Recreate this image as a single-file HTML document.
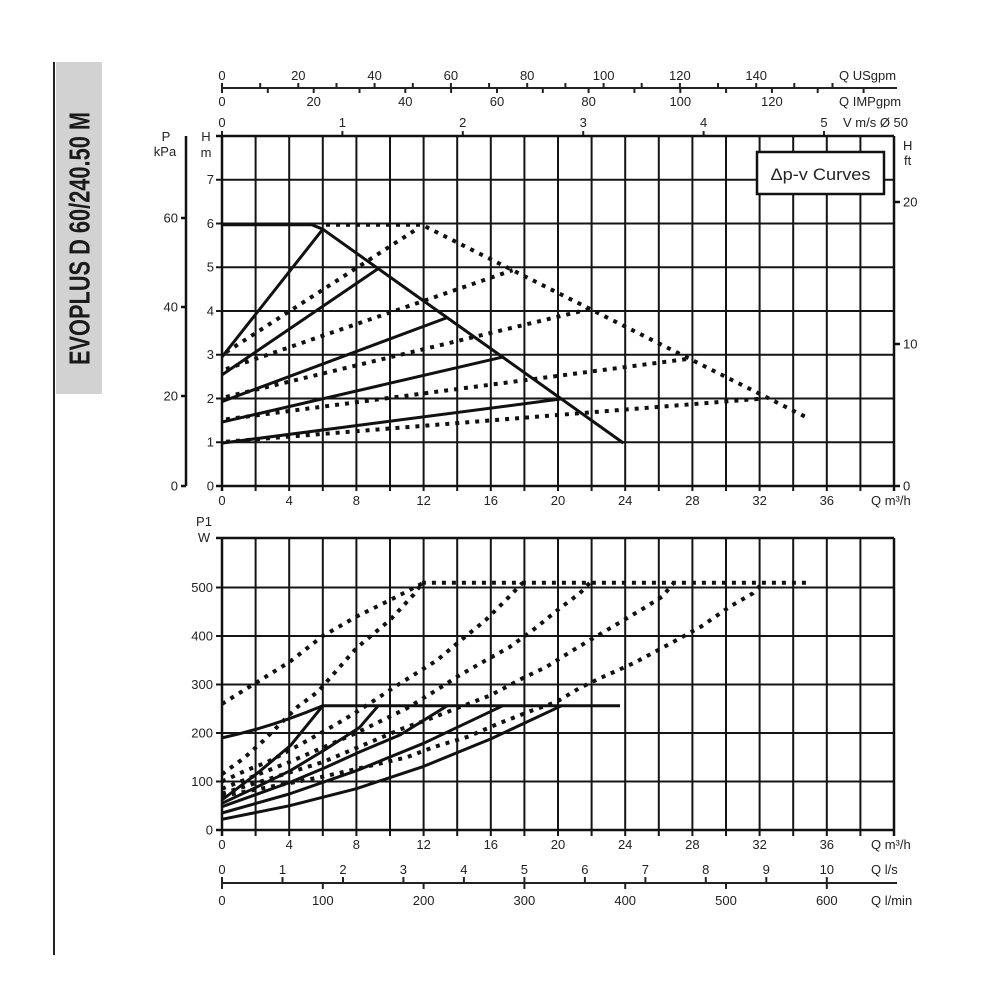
<!DOCTYPE html>
<html><head><meta charset="utf-8"><style>
html,body{margin:0;padding:0;background:#fff;}
svg{display:block;}
text{font-family:"Liberation Sans",Arial,sans-serif;fill:#222;}
</style></head><body>
<svg width="1000" height="1000" viewBox="0 0 1000 1000" xmlns="http://www.w3.org/2000/svg">
<rect width="1000" height="1000" fill="#fff"/>
<!-- left title band -->
<line x1="54" y1="62" x2="54" y2="955" stroke="#222" stroke-width="2"/>
<rect x="56" y="62" width="46" height="332" fill="#d2d2d2"/>
<text transform="translate(89.5,238.5) rotate(-90)" text-anchor="middle" font-size="29" font-weight="bold" textLength="253" lengthAdjust="spacingAndGlyphs" style="fill:#1a1a1a">EVOPLUS D 60/240.50 M</text>

<!-- top scales -->
<g stroke="#222" stroke-width="2" fill="none">
<line x1="222" y1="88" x2="897" y2="88"/>
<path d="M222,83V88M260.2,83V88M298.3,83V88M336.5,83V88M374.6,83V88M412.8,83V88M450.9,83V88M489.1,83V88M527.2,83V88M565.4,83V88M603.6,83V88M641.7,83V88M679.9,83V88M718,83V88M756.2,83V88M794.3,83V88M832.5,83V88"/>
<path d="M222,88V93M267.8,88V93M313.7,88V93M359.5,88V93M405.3,88V93M451.1,88V93M497,88V93M542.8,88V93M588.6,88V93M634.4,88V93M680.3,88V93M726.1,88V93M771.9,88V93M817.7,88V93M863.6,88V93"/>
<path d="M222,131V136M342.4,131V136M462.8,131V136M583.2,131V136M703.6,131V136M824,131V136"/>
</g>
<g font-size="13" text-anchor="middle">
<text x="222" y="80">0</text><text x="298.3" y="80">20</text><text x="374.6" y="80">40</text><text x="450.9" y="80">60</text><text x="527.2" y="80">80</text><text x="603.6" y="80">100</text><text x="679.9" y="80">120</text><text x="756.2" y="80">140</text>
<text x="222" y="106">0</text><text x="313.7" y="106">20</text><text x="405.3" y="106">40</text><text x="497" y="106">60</text><text x="588.6" y="106">80</text><text x="680.3" y="106">100</text><text x="771.9" y="106">120</text>
<text x="222" y="127">0</text><text x="342.4" y="127">1</text><text x="462.8" y="127">2</text><text x="583.2" y="127">3</text><text x="703.6" y="127">4</text><text x="824" y="127">5</text>
</g>
<g font-size="13">
<text x="839" y="80">Q USgpm</text>
<text x="839" y="106">Q IMPgpm</text>
<text x="843" y="127">V m/s Ø 50</text>
</g>

<!-- TOP CHART grid -->
<g stroke="#151515" stroke-width="2" fill="none">
<path d="M255.6,136V491M289.2,136V491M322.8,136V491M356.4,136V491M390,136V491M423.6,136V491M457.2,136V491M490.8,136V491M524.4,136V491M558,136V491M591.6,136V491M625.2,136V491M658.8,136V491M692.4,136V491M726,136V491M759.6,136V491M793.2,136V491M826.8,136V491M860.4,136V491"/>
<path d="M216,442.25H894M216,398.5H894M216,354.75H894M216,311H894M216,267.25H894M216,223.5H894M216,179.75H894"/>
</g>
<g stroke="#111" stroke-width="2.5" fill="none">
<path d="M216,136H894M216,486H894M222,136V491M894,136V491"/>
<path d="M894,202H900M894,344H900M894,486H900"/>
<path d="M186,136V486M181,218H186M181,307H186M181,396H186M181,486H186"/>
</g>
<!-- legend -->
<rect x="757" y="152" width="127" height="42" fill="#fff" stroke="#111" stroke-width="2.5"/>
<text x="820.5" y="180" font-size="17" text-anchor="middle" textLength="100" lengthAdjust="spacingAndGlyphs">Δp-v Curves</text>

<!-- top chart labels -->
<g font-size="13" text-anchor="end">
<text x="214" y="490.5">0</text><text x="214" y="446.7">1</text><text x="214" y="403">2</text><text x="214" y="359.2">3</text><text x="214" y="315.5">4</text><text x="214" y="271.7">5</text><text x="214" y="228">6</text><text x="214" y="184.2">7</text>
<text x="178" y="222.5">60</text><text x="178" y="311.5">40</text><text x="178" y="400.5">20</text><text x="178" y="490.5">0</text>
</g>
<g font-size="13" text-anchor="middle">
<text x="206" y="141">H</text><text x="206" y="157">m</text>
<text x="166" y="141">P</text><text x="165" y="156">kPa</text>
</g>
<g font-size="13">
<text x="903" y="150">H</text><text x="904" y="165">ft</text>
<text x="903" y="206.5">20</text><text x="903" y="348.5">10</text><text x="903" y="490.5">0</text>
</g>
<g font-size="13" text-anchor="middle">
<text x="222" y="505">0</text><text x="289.2" y="505">4</text><text x="356.4" y="505">8</text><text x="423.6" y="505">12</text><text x="490.8" y="505">16</text><text x="558" y="505">20</text><text x="625.2" y="505">24</text><text x="692.4" y="505">28</text><text x="759.6" y="505">32</text><text x="826.8" y="505">36</text>
</g>
<text x="871" y="505" font-size="13">Q m³/h</text>

<!-- top chart curves -->
<g stroke="#111" stroke-width="3" fill="none" stroke-linejoin="round">
<path d="M222,224.8L312,224.8L322.8,229.2L623.5,443.1"/>
<path d="M222,356.9L322.8,229.2"/>
<path d="M222,374.9L378.2,268.6"/>
<path d="M222,401.6L447.1,317.6"/>
<path d="M222,422.1L502.6,357.1"/>
<path d="M222,443.1L561.4,398.9"/>
</g>
<g stroke="#111" stroke-width="4" fill="none" stroke-dasharray="4 6">
<path d="M326,224.8L421.9,224.8L808.3,418.2"/>
<path d="M226,352.2L418.6,227.9"/>
<path d="M226,369.1L512.6,270.2"/>
<path d="M226,396.9L589.9,309"/>
<path d="M226,419.3L690.7,358.5"/>
<path d="M226,441.7L763,398.5"/>
</g>

<!-- BOTTOM CHART grid -->
<g stroke="#151515" stroke-width="2" fill="none">
<path d="M255.6,538V836M289.2,538V836M322.8,538V836M356.4,538V836M390,538V836M423.6,538V836M457.2,538V836M490.8,538V836M524.4,538V836M558,538V836M591.6,538V836M625.2,538V836M658.8,538V836M692.4,538V836M726,538V836M759.6,538V836M793.2,538V836M826.8,538V836M860.4,538V836"/>
<path d="M216,781.5H894M216,733H894M216,684.5H894M216,636H894M216,587.5H894"/>
</g>
<g stroke="#111" stroke-width="2.5" fill="none">
<path d="M216,538H894M216,830H894M222,538V836M894,538V836"/>
</g>
<g font-size="13" text-anchor="end">
<text x="213" y="834.5">0</text><text x="213" y="786">100</text><text x="213" y="737.5">200</text><text x="213" y="689">300</text><text x="213" y="640.5">400</text><text x="213" y="592">500</text>
</g>
<g font-size="13" text-anchor="middle">
<text x="204" y="526">P1</text><text x="204" y="542">W</text>
<text x="222" y="849">0</text><text x="289.2" y="849">4</text><text x="356.4" y="849">8</text><text x="423.6" y="849">12</text><text x="490.8" y="849">16</text><text x="558" y="849">20</text><text x="625.2" y="849">24</text><text x="692.4" y="849">28</text><text x="759.6" y="849">32</text><text x="826.8" y="849">36</text>
</g>
<text x="871" y="849" font-size="13">Q m³/h</text>

<!-- bottom curves -->
<g stroke="#111" stroke-width="3" fill="none" stroke-linejoin="round">
<path d="M322.8,705.8L620,705.8"/>
<path d="M222,737.9Q272,727 322.8,705.8"/>
<path d="M222,799.9L257.3,773.3L290.9,745.1L322.8,705.8"/>
<path d="M222,803.3L257.3,786.8L290.9,770.3L324.5,750L359.8,727.2L378.2,705.8"/>
<path d="M222,806.7L290.9,782L324.5,767.9L359.8,751.9L400.1,734.9L447.1,705.8"/>
<path d="M222,813L289.2,794L356.4,770.7L423.6,743.3L502.6,705.8"/>
<path d="M222,819.3L289.2,805.8L356.4,788.7L423.6,766.4L490.8,738.9L561.4,705.8"/>
</g>
<g stroke="#111" stroke-width="4" fill="none" stroke-dasharray="4 6" stroke-linejoin="round">
<path d="M421.9,582.7L810,582.7"/>
<path d="M222,703.9L255.6,683L289.2,662.2L322.8,636L356.4,616.6L390,600.1L421.9,583.6"/>
<path d="M222,774.2L243.8,758.2L262.3,741.7L280.8,723.3L297.6,706.8L317.8,691.8L356.4,648.1L390,620L413.5,594.8L421.9,583.6"/>
<path d="M222,781.5L247.2,769.9L267.4,762.1L302.6,743.2L334.6,725.2L356.4,712.1L398.4,684.5L437,660.3L457.2,643.3L485.8,620L512.6,593.3L522.7,582.7"/>
<path d="M222,788.8L289.2,762.1L356.4,733L406.8,708.3L437,689.8L457.2,676.7L480.7,663.2L509.3,647.2L532.8,630.2L559.7,608.4L579.8,593.3L589.9,582.7"/>
<path d="M222,793.6L322.8,762.1L403.4,728.2L427,719.9L460.6,706.8L490.8,695.2L522.7,678.2L546.2,667L576.5,648.1L610.1,628.2L640.3,610.3L662.2,596.7L673.9,582.7"/>
<path d="M222,796.1L322.8,776.7L406.8,757.3L433.7,747.1L467.3,736.9L499.2,723.3L532.8,710.2L556.3,702L579.8,687.9L600,678.2L633.6,663.2L667.2,645.2L700.8,626.8L729.4,606.9L752.9,593.3L763,582.7"/>
</g>

<!-- bottom scales -->
<g stroke="#222" stroke-width="2" fill="none">
<line x1="222" y1="883" x2="897" y2="883"/>
<path d="M222,877V883M282.5,877V883M343,877V883M403.4,877V883M463.9,877V883M524.4,877V883M584.9,877V883M645.4,877V883M705.8,877V883M766.3,877V883M826.8,877V883"/>
<path d="M222,883V889M322.8,883V889M423.6,883V889M524.4,883V889M625.2,883V889M726,883V889M826.8,883V889"/>
</g>
<g font-size="13" text-anchor="middle">
<text x="222" y="874">0</text><text x="282.5" y="874">1</text><text x="343" y="874">2</text><text x="403.4" y="874">3</text><text x="463.9" y="874">4</text><text x="524.4" y="874">5</text><text x="584.9" y="874">6</text><text x="645.4" y="874">7</text><text x="705.8" y="874">8</text><text x="766.3" y="874">9</text><text x="826.8" y="874">10</text>
<text x="222" y="905">0</text><text x="322.8" y="905">100</text><text x="423.6" y="905">200</text><text x="524.4" y="905">300</text><text x="625.2" y="905">400</text><text x="726" y="905">500</text><text x="826.8" y="905">600</text>
</g>
<g font-size="13">
<text x="871" y="874">Q l/s</text>
<text x="871" y="905">Q l/min</text>
</g>
</svg>
</body></html>
